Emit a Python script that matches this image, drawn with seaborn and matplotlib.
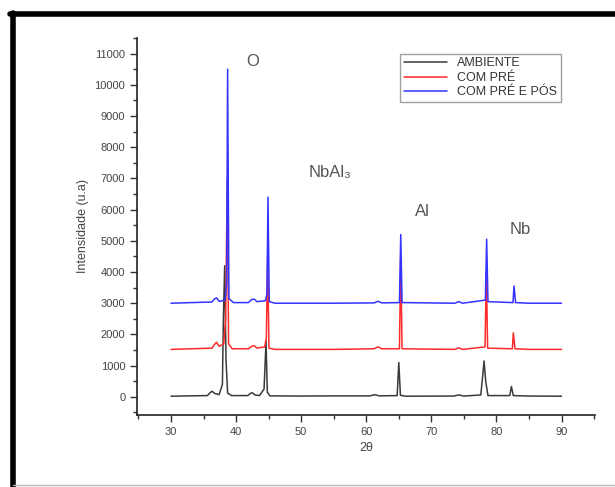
import matplotlib
matplotlib.use("Agg")
import matplotlib.pyplot as plt
import seaborn as sns
import pandas as pd
from matplotlib.lines import Line2D

# 2theta / intensity points
amb_x = [30, 35.6, 36.0, 36.3, 36.7, 37.4, 37.9, 38.05, 38.25, 38.45, 38.7, 39.3, 41.8, 42.2, 42.5, 42.9,
         43.6, 44.3, 44.45, 44.6, 44.8, 45.2, 50, 55, 60.6, 61.3, 62.0, 64.75, 65.0, 65.25, 66.0,
         73.4, 74.2, 75.0, 77.6, 77.9, 78.1, 78.35, 78.7, 82.05, 82.3, 82.6, 85, 90]
amb_y = [20, 40, 130, 180, 110, 70, 400, 2500, 4200, 1200, 120, 40, 40, 110, 130, 60,
         40, 250, 1000, 1800, 150, 30, 25, 30, 30, 70, 30, 40, 1100, 50, 20,
         25, 60, 25, 60, 700, 1150, 500, 40, 40, 330, 40, 25, 20]

pre_x = [30, 36.3, 36.7, 37.0, 37.4, 38.1, 38.4, 38.65, 38.85, 39.4, 41.9, 42.4, 42.8, 43.2, 44.4,
         44.65, 44.85, 45.05, 46, 55, 61.2, 61.8, 62.4, 65.1, 65.3, 65.5, 73.6, 74.2, 74.8,
         78.25, 78.45, 78.65, 82.45, 82.6, 82.85, 85, 90]
pre_y = [1520, 1560, 1680, 1750, 1620, 1700, 2500, 7000, 1700, 1540, 1540, 1620, 1640, 1560, 1600,
         1900, 4500, 1560, 1520, 1520, 1540, 1600, 1540, 1540, 4500, 1540, 1520, 1570, 1520,
         1600, 4000, 1560, 1540, 2050, 1540, 1520, 1520]

pos_x = [30, 36.3, 36.7, 37.0, 37.4, 38.3, 38.55, 38.7, 38.9, 39.6, 41.9, 42.4, 42.8, 43.2, 44.5,
         44.75, 44.9, 45.1, 46, 55, 61.2, 61.8, 62.4, 65.1, 65.3, 65.5, 73.6, 74.2, 74.8,
         78.3, 78.5, 78.7, 82.55, 82.7, 82.95, 85, 90]
pos_y = [3000, 3040, 3140, 3170, 3060, 3100, 3600, 10500, 3150, 3020, 3020, 3120, 3130, 3050, 3080,
         3300, 6400, 3050, 3000, 3000, 3010, 3060, 3010, 3020, 5200, 3020, 3000, 3050, 3000,
         3100, 5050, 3050, 3020, 3550, 3020, 3000, 3000]

series_names = ["AMBIENTE", "COM PRÉ", "COM PRÉ E PÓS"]
peak_labels = ["O", "NbAl₃", "Al", "Nb"]
peak_label_pos = [(42.6, 10750), (54.5, 7200), (68.6, 5950), (83.6, 5350)]

sns.set_style("ticks")
plt.rcParams["font.family"] = ["Liberation Sans", "DejaVu Sans"]

fig = plt.figure(figsize=(6.15, 4.87), dpi=100)
ax = fig.add_axes([0.223, 0.148, 0.744, 0.774])

frames = []
for name, xs, ys in zip(series_names, [amb_x, pre_x, pos_x], [amb_y, pre_y, pos_y]):
    frames.append(pd.DataFrame({"x": xs, "y": ys, "amostra": name}))
df = pd.concat(frames)

sns.lineplot(data=df, x="x", y="y", hue="amostra", sort=False, estimator=None,
             palette=["#3a3a3a", "#ff2a2a", "#3333ff"], linewidth=1.1, ax=ax)

for lab, (px, py) in zip(peak_labels, peak_label_pos):
    ax.text(px, py, lab, fontsize=12, color="#555555", ha="center", va="center")

ax.set_xlim(24.8, 95.1)
ax.set_ylim(-580, 11500)
ax.set_xticks(range(30, 91, 10))
ax.set_xticks(range(25, 96, 5), minor=True)
ax.set_yticks(range(0, 11001, 1000))
ax.set_yticks(range(-500, 11501, 500), minor=True)
ax.tick_params(axis="both", which="major", direction="out", length=5, width=1,
               labelsize=8, colors="#333333")
ax.tick_params(axis="both", which="minor", direction="out", length=3, width=1, colors="#333333")
for lbl in ax.get_xticklabels() + ax.get_yticklabels():
    lbl.set_color("#444444")
sns.despine(ax=ax)
ax.spines["left"].set_linewidth(1.2)
ax.spines["bottom"].set_linewidth(1.2)
ax.spines["left"].set_color("#222222")
ax.spines["bottom"].set_color("#222222")

ax.set_xlabel("2θ", fontsize=9, color="#444444")
ax.set_ylabel("Intensidade (u.a)", fontsize=9, color="#444444")

leg = ax.legend(loc="upper right", bbox_to_anchor=(0.94, 0.975), fontsize=9,
                handlelength=3.5, frameon=True, fancybox=False, borderpad=0.3,
                labelspacing=0.2, title=None)
leg.get_frame().set_edgecolor("#888888")
leg.get_frame().set_linewidth(1.0)
for t in leg.get_texts():
    t.set_color("#333333")

# outer frame of the original screenshot: thick top and left edges, thin grey bottom
fig.lines.append(Line2D([0.016, 1.0], [0.971, 0.971], transform=fig.transFigure,
                        color="black", linewidth=4))
fig.lines.append(Line2D([0.021, 0.021], [0.0, 0.973], transform=fig.transFigure,
                        color="black", linewidth=4))
fig.lines.append(Line2D([0.021, 1.0], [0.004, 0.004], transform=fig.transFigure,
                        color="#bbbbbb", linewidth=1))

fig.savefig("out.png", dpi=100)
